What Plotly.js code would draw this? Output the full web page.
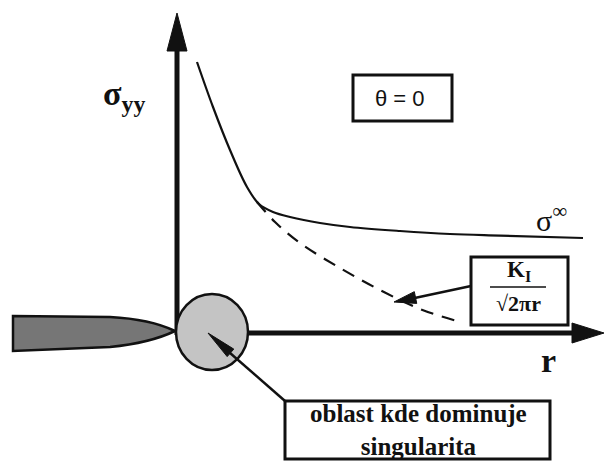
<!DOCTYPE html>
<html>
<head>
<meta charset="utf-8">
<script src="https://cdn.plot.ly/plotly-3.0.1.min.js"></script>
<style>html,body{margin:0;padding:0;background:#fff;}#chart{width:604px;height:461px;}</style>
</head>
<body>
<div id="chart"></div>
<script>
// ---- data (units: r and sigma, origin at the crack tip) ----
const rSolid      = [0.5, 0.9, 1.325, 1.75, 2.05, 2.4, 2.825, 3.575, 4.325, 5.575, 6.825, 8.075, 10.15];
const sigmaSolid  = [6.75, 5.625, 4.55, 3.625, 3.2, 3.0, 2.875, 2.725, 2.625, 2.525, 2.45, 2.41, 2.35];
const rDashed     = [2.0, 2.45, 3.075, 4.075, 5.075, 6.075, 7.075];
const sigmaDashed = [3.25, 2.75, 2.225, 1.6, 1.05, 0.575, 0.25];

const labelYAxis  = 'σ<sub>yy</sub>';
const labelXAxis  = 'r';
const labelTheta  = 'θ = 0';
const labelFar    = 'σ<sup>∞</sup>';
const labelKnum   = 'K<sub>I</sub>';
const labelKden   = '√2πr';
const labelZone   = 'oblast kde dominuje<br>singularita';

// ---- page geometry helpers (pixel -> axis units) ----
const W = 604, H = 461, X0 = 177, Y0 = 332, S = 40;
const dx = px => (px - X0) / S;
const dy = py => (Y0 - py) / S;
function path(cmds){
  return cmds.map(c => {
    if (c[0] === 'Z') return 'Z';
    const pts = [];
    for (let i = 1; i < c.length; i += 2) pts.push(dx(c[i]) + ',' + dy(c[i+1]));
    return c[0] + pts.join(' ');
  }).join(' ');
}
function arrowHead(tx, ty, fx, fy, len, half){
  const L = Math.hypot(tx - fx, ty - fy);
  const ux = (tx - fx) / L, uy = (ty - fy) / L;
  const bx = tx - ux * len, by = ty - uy * len;
  return path([['M', tx, ty], ['L', bx - uy * half, by + ux * half], ['L', bx + uy * half, by - ux * half], ['Z']]);
}
function rect(x0, y0, x1, y1, w){
  return {type:'rect', xref:'x', yref:'y', x0:dx(x0), x1:dx(x1), y0:dy(y0), y1:dy(y1),
          line:{color:'#111', width:w}, fillcolor:'rgba(255,255,255,1)'};
}
function seg(x0, y0, x1, y1, w){
  return {type:'line', xref:'x', yref:'y', x0:dx(x0), x1:dx(x1), y0:dy(y0), y1:dy(y1),
          line:{color:'#111', width:w}};
}
function filled(p, fill, lw){
  return {type:'path', xref:'x', yref:'y', path:p, fillcolor:fill, line:{color:'#111', width:lw}};
}

const shapes = [
  // crack
  filled(path([['M',13,316],['L',110,317],['Q',150,319,175,331],['Q',150,343,110,347],['L',13,351],['Z']]), '#767676', 2.5),
  // axes
  seg(177, 335, 177, 48, 5),
  seg(177, 333, 576, 333, 5),
  filled(arrowHead(177, 13, 177, 60, 38, 10), '#111', 1),
  filled(arrowHead(604, 333, 560, 333, 32, 10), '#111', 1),
  // singular zone
  {type:'circle', xref:'x', yref:'y', x0:dx(176), x1:dx(248), y0:dy(294), y1:dy(370),
   fillcolor:'#c4c4c4', line:{color:'#111', width:2.5}},
  // leader to circle
  seg(285, 401, 222, 346, 2.5),
  filled(arrowHead(208, 333, 285, 401, 30, 5), '#111', 1),
  // boxes
  rect(353, 75, 452, 121, 3),
  rect(471, 257, 568, 325, 3),
  rect(285, 401, 550, 459, 3),
  // fraction bar and K arrow
  seg(490, 287, 546, 287, 1.5),
  seg(471, 286, 410, 299, 2.5),
  filled(arrowHead(394, 302, 471, 286, 22, 6), '#111', 1)
];

const SERIF = "'Liberation Serif', 'Times New Roman', Times, serif";
const SANS_N = "'Liberation Sans Narrow', 'Liberation Sans', Arial, sans-serif";
function ann(text, px, py, size, family){
  return {xref:'x', yref:'y', x:dx(px), y:dy(py), text:text, showarrow:false,
    xanchor:'center', yanchor:'middle', font:{family:family || SERIF, size:size, color:'#111'}};
}

const annotations = [
  ann('<b>' + labelYAxis + '</b>', 124, 96, 34),
  ann('<b>' + labelXAxis + '</b>', 548, 360, 34),
  ann(labelTheta, 400, 98, 22, SANS_N),
  ann(labelFar, 551, 218, 30),
  ann('<b>' + labelKnum + '</b>', 519, 271, 23),
  ann('<b>' + labelKden + '</b>', 518, 303, 22),
  ann('<b>' + labelZone + '</b>', 418, 430, 25)
];

const traces = [
  {x:rSolid, y:sigmaSolid, type:'scatter', mode:'lines', line:{color:'#111', width:2.2, shape:'spline', smoothing:1}, hoverinfo:'skip'},
  {x:rDashed, y:sigmaDashed, type:'scatter', mode:'lines', line:{color:'#111', width:2.2, dash:'13px,9px', shape:'spline', smoothing:1}, hoverinfo:'skip'}
];

const layout = {
  width:W, height:H, margin:{l:0, r:0, t:0, b:0},
  paper_bgcolor:'#fff', plot_bgcolor:'#fff', showlegend:false,
  xaxis:{range:[dx(0), dx(W)], visible:false, fixedrange:true},
  yaxis:{range:[dy(H), dy(0)], visible:false, fixedrange:true},
  shapes:shapes, annotations:annotations
};

Plotly.newPlot('chart', traces, layout, {staticPlot:true, displayModeBar:false});
</script>
</body>
</html>
